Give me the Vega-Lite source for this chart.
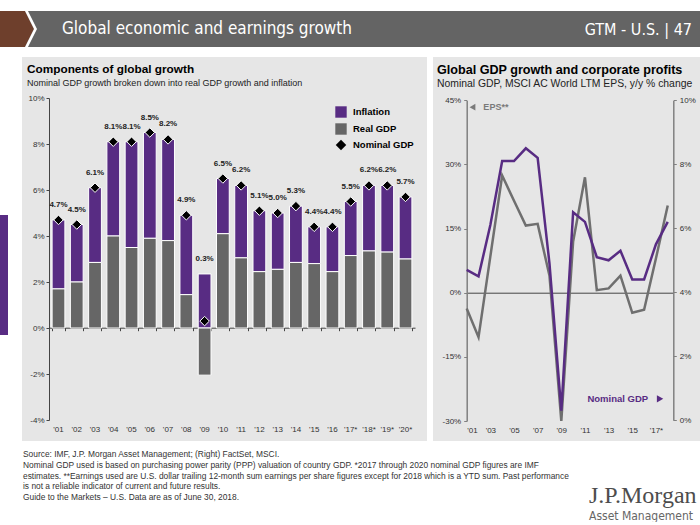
{
  "$schema": "https://vega.github.io/schema/vega-lite/v6.json",
  "background": "white",
  "padding": {"left": 0, "top": 10, "right": 0, "bottom": 0},
  "spacing": 9,
  "config": {
    "view": {"stroke": null},
    "font": "Liberation Sans",
    "axis": {"labelFont": "Liberation Sans", "labelFontSize": 8, "labelColor": "#333333", "grid": false},
    "legend": {"labelFont": "Liberation Sans"},
    "title": {"font": "Liberation Sans", "subtitleFont": "Liberation Sans"}
  },
  "datasets": {
    "gdp": [
      {"year": "'01", "real": 1.7, "inflation": 3.0, "nominal": 4.7},
      {"year": "'02", "real": 2.0, "inflation": 2.5, "nominal": 4.5},
      {"year": "'03", "real": 2.85, "inflation": 3.25, "nominal": 6.1},
      {"year": "'04", "real": 4.0, "inflation": 4.1, "nominal": 8.1},
      {"year": "'05", "real": 3.5, "inflation": 4.6, "nominal": 8.1},
      {"year": "'06", "real": 3.9, "inflation": 4.6, "nominal": 8.5},
      {"year": "'07", "real": 3.8, "inflation": 4.4, "nominal": 8.2},
      {"year": "'08", "real": 1.45, "inflation": 3.45, "nominal": 4.9},
      {"year": "'09", "real": -2.05, "inflation": 2.35, "nominal": 0.3},
      {"year": "'10", "real": 4.1, "inflation": 2.4, "nominal": 6.5},
      {"year": "'11", "real": 3.05, "inflation": 3.15, "nominal": 6.2},
      {"year": "'12", "real": 2.45, "inflation": 2.65, "nominal": 5.1},
      {"year": "'13", "real": 2.55, "inflation": 2.45, "nominal": 5.0},
      {"year": "'14", "real": 2.85, "inflation": 2.45, "nominal": 5.3},
      {"year": "'15", "real": 2.8, "inflation": 1.6, "nominal": 4.4},
      {"year": "'16", "real": 2.45, "inflation": 1.95, "nominal": 4.4},
      {"year": "'17*", "real": 3.15, "inflation": 2.35, "nominal": 5.5},
      {"year": "'18*", "real": 3.35, "inflation": 2.85, "nominal": 6.2},
      {"year": "'19*", "real": 3.3, "inflation": 2.9, "nominal": 6.2},
      {"year": "'20*", "real": 3.0, "inflation": 2.7, "nominal": 5.7}
    ],
    "lines": [
      {"year": 2001, "eps": -3.7, "gdp": 4.7},
      {"year": 2002, "eps": -10.4, "gdp": 4.5},
      {"year": 2003, "eps": 8.5, "gdp": 6.1},
      {"year": 2004, "eps": 27.4, "gdp": 8.1},
      {"year": 2005, "eps": 21.5, "gdp": 8.1},
      {"year": 2006, "eps": 15.7, "gdp": 8.5},
      {"year": 2007, "eps": 16.1, "gdp": 8.2},
      {"year": 2008, "eps": 4.0, "gdp": 4.9},
      {"year": 2009, "eps": -30.0, "gdp": 0.3},
      {"year": 2010, "eps": 12.0, "gdp": 6.5},
      {"year": 2011, "eps": 27.0, "gdp": 6.2},
      {"year": 2012, "eps": 0.6, "gdp": 5.1},
      {"year": 2013, "eps": 1.0, "gdp": 5.0},
      {"year": 2014, "eps": 4.0, "gdp": 5.3},
      {"year": 2015, "eps": -4.7, "gdp": 4.4},
      {"year": 2016, "eps": -4.0, "gdp": 4.4},
      {"year": 2017, "eps": 8.0, "gdp": 5.5},
      {"year": 2018, "eps": 20.4, "gdp": 6.2}
    ]
  },
  "vconcat": [
    {
      "spacing": 0,
      "hconcat": [
        {
          "width": 440,
          "height": 36,
          "view": {"fill": "#646464", "stroke": null},
          "title": {"text": "Global economic and earnings growth", "anchor": "start", "frame": "group", "orient": "top", "baseline": "top", "offset": -27, "dx": 62, "font": "Liberation Sans Narrow, DejaVu Sans Condensed, sans-serif", "fontSize": 17, "fontWeight": "normal", "color": "#ffffff"},
          "data": {"values": [{}]},
          "layer": [
            {"mark": {"type": "point", "shape": "M -1 -0.08182 L -0.88636 -0.08182 L -0.84545 0 L -0.88636 0.08182 L -1 0.08182 Z", "size": 193600, "filled": true, "fill": "#6e3f2c", "stroke": null, "strokeWidth": 0, "opacity": 1}},
            {"mark": {"type": "point", "shape": "M -0.88636 -0.08182 L -0.87273 -0.08182 L -0.83182 0 L -0.87273 0.08182 L -0.88636 0.08182 L -0.84545 0 Z", "size": 193600, "filled": true, "fill": "#ffffff", "stroke": null, "strokeWidth": 0, "opacity": 1}}
          ]
        },
        {
          "width": 260,
          "height": 36,
          "view": {"fill": "#646464", "stroke": null},
          "title": {"text": "GTM - U.S.  |  47", "anchor": "end", "frame": "group", "orient": "top", "baseline": "top", "offset": -27, "dx": -8, "font": "Liberation Sans Narrow, DejaVu Sans Condensed, sans-serif", "fontSize": 16, "fontWeight": "normal", "color": "#ffffff"},
          "data": {"values": [{}]},
          "mark": {"type": "point", "opacity": 0, "size": 1}
        }
      ]
    },
    {
      "spacing": 14,
      "hconcat": [
        {
          "spacing": 0,
          "vconcat": [
            {"width": 8, "height": 158, "data": {"values": [{}]}, "mark": {"type": "point", "opacity": 0, "size": 1}},
            {"width": 8, "height": 120, "view": {"fill": "#582c83", "stroke": null}, "data": {"values": [{}]}, "mark": {"type": "point", "opacity": 0, "size": 1}}
          ]
        },
        {
          "spacing": 6,
          "hconcat": [
            {
              "width": 405,
              "height": 384,
              "view": {"fill": "#e6e6e6", "stroke": null},
              "title": {"text": "Components of global growth", "subtitle": "Nominal GDP growth broken down into real GDP growth and inflation", "anchor": "start", "frame": "group", "orient": "top", "baseline": "top", "offset": -31, "dx": 5, "fontSize": 11.8, "fontWeight": "bold", "color": "#000000", "subtitleFontSize": 9, "subtitleColor": "#222222", "subtitlePadding": 3},
              "data": {"name": "gdp"},
              "resolve": {"axis": {"x": "independent"}},
              "layer": [
                {
                  "transform": [{"fold": ["inflation", "real"], "as": ["series", "value"]}],
                  "mark": {"type": "bar", "stroke": "#ffffff", "strokeWidth": 1},
                  "encoding": {
                    "x": {"field": "year", "type": "ordinal", "scale": {"type": "band", "range": [27, 393], "paddingInner": 0.3, "paddingOuter": 0.17},
                      "axis": {"title": null, "orient": "bottom", "offset": -113.3, "labels": false, "ticks": true, "tickBand": "extent", "tickSize": 3, "tickColor": "#444444", "domainColor": "#444444", "domainWidth": 1}},
                    "y": {"field": "value", "type": "quantitative", "stack": "zero", "scale": {"domain": [-4, 10], "range": [363, 41], "nice": false, "zero": false},
                      "axis": {"title": null, "orient": "left", "offset": -27, "values": [-4, -2, 0, 2, 4, 6, 8, 10], "labelExpr": "datum.value + '%'", "domainColor": "#444444", "tickColor": "#444444", "tickSize": 3, "labelPadding": 2}},
                    "color": {"field": "series", "type": "nominal", "scale": {"domain": ["inflation", "real"], "range": ["#582c83", "#666666"]},
                      "legend": {"orient": "none", "legendX": 335, "legendY": 95, "title": null, "symbolType": "square", "symbolSize": 130, "symbolStrokeWidth": 0, "labelFontSize": 9.5, "labelFontWeight": "bold", "labelOffset": 6, "rowPadding": 5,
                        "labelExpr": "datum.value == 'real' ? 'Real GDP' : 'Inflation'",
                        "encode": {"labels": {"update": {"fill": {"signal": "datum.value == 'real' ? '#7a7a7a' : '#582c83'"}}}}}},
                    "order": {"field": "series", "sort": "descending"}
                  }
                },
                {
                  "mark": {"type": "point", "filled": true, "fill": "#000000", "stroke": "#ffffff", "strokeWidth": 1, "size": 90, "opacity": 1},
                  "encoding": {
                    "x": {"field": "year", "type": "ordinal",
                      "axis": {"title": null, "orient": "bottom", "offset": -16, "domain": false, "ticks": false, "tickSize": 0, "labelPadding": 0, "labelAngle": 0, "labelFontSize": 8, "labelOverlap": false}},
                    "y": {"field": "nominal", "type": "quantitative", "axis": {"title": null}},
                    "shape": {"datum": "Nominal GDP", "type": "nominal", "scale": {"range": ["diamond"]},
                      "legend": {"orient": "none", "legendX": 335, "legendY": 128, "title": null, "symbolFillColor": "#000000", "symbolStrokeColor": "#ffffff", "symbolSize": 110, "labelFontSize": 9.5, "labelFontWeight": "bold", "labelColor": "#000000", "labelOffset": 6}}
                  }
                },
                {
                  "transform": [
                    {"calculate": "max(datum.nominal, datum.nominal - datum.real)", "as": "top"},
                    {"calculate": "format(datum.nominal, '.1f') + '%'", "as": "label"}
                  ],
                  "mark": {"type": "text", "dy": -15, "fontSize": 8, "fontWeight": "bold", "fill": "#222222", "baseline": "middle"},
                  "encoding": {
                    "x": {"field": "year", "type": "ordinal", "axis": null},
                    "y": {"field": "top", "type": "quantitative", "axis": {"title": null}},
                    "text": {"field": "label"}
                  }
                }
              ]
            },
            {
              "width": 267,
              "height": 384,
              "view": {"fill": "#e6e6e6", "stroke": null},
              "title": {"text": "Global GDP growth and corporate profits", "subtitle": "Nominal GDP, MSCI AC World LTM EPS, y/y % change", "anchor": "start", "frame": "group", "orient": "top", "baseline": "top", "offset": -32, "dx": 4, "fontSize": 12.6, "fontWeight": "bold", "color": "#000000", "subtitleFontSize": 10.4, "subtitleColor": "#222222", "subtitlePadding": 2},
              "resolve": {"scale": {"y": "independent"}, "axis": {"x": "independent", "y": "independent"}},
              "layer": [
                {
                  "layer": [
                    {
                      "data": {"name": "lines"},
                      "mark": {"type": "line", "color": "#6f6f6f", "strokeWidth": 2.5},
                      "encoding": {
                        "x": {"field": "year", "type": "quantitative", "scale": {"domain": [2001, 2018.47], "range": [33.7, 240.3], "nice": false, "zero": false},
                          "axis": {"title": null, "orient": "bottom", "offset": -148.3, "labels": false, "ticks": false, "domainColor": "#444444", "domainWidth": 1}},
                        "y": {"field": "eps", "type": "quantitative", "scale": {"domain": [-30, 45], "range": [364, 43.3], "nice": false, "zero": false},
                          "axis": {"title": null, "orient": "left", "offset": -33.7, "values": [-30, -15, 0, 15, 30, 45], "labelExpr": "datum.value + '%'", "domainColor": "#808080", "domainWidth": 1.5, "tickColor": "#808080", "tickSize": 3, "labelPadding": 3}}
                      }
                    },
                    {
                      "data": {"values": [{"label": "EPS**"}]},
                      "mark": {"type": "point", "shape": "triangle-left", "filled": true, "color": "#7a7a7a", "size": 45, "opacity": 1},
                      "encoding": {
                        "x": {"datum": 2001.49, "type": "quantitative", "axis": {"title": null, "orient": "bottom", "offset": -148.3, "labels": false, "ticks": false, "domainColor": "#444444", "domainWidth": 1}},
                        "y": {"datum": 43.4, "type": "quantitative", "axis": {"title": null, "orient": "left", "offset": -33.7, "values": [-30, -15, 0, 15, 30, 45], "labelExpr": "datum.value + '%'", "domainColor": "#808080", "domainWidth": 1.5, "tickColor": "#808080", "tickSize": 3, "labelPadding": 3}}
                      }
                    },
                    {
                      "data": {"values": [{"label": "EPS**"}]},
                      "mark": {"type": "text", "align": "left", "baseline": "middle", "fontSize": 9, "fontWeight": "bold", "fill": "#7a7a7a"},
                      "encoding": {
                        "x": {"datum": 2002.41, "type": "quantitative", "axis": {"title": null, "orient": "bottom", "offset": -148.3, "labels": false, "ticks": false, "domainColor": "#444444", "domainWidth": 1}},
                        "y": {"datum": 43.4, "type": "quantitative", "axis": {"title": null, "orient": "left", "offset": -33.7, "values": [-30, -15, 0, 15, 30, 45], "labelExpr": "datum.value + '%'", "domainColor": "#808080", "domainWidth": 1.5, "tickColor": "#808080", "tickSize": 3, "labelPadding": 3}},
                        "text": {"field": "label"}
                      }
                    }
                  ]
                },
                {
                  "layer": [
                    {
                      "data": {"name": "lines"},
                      "mark": {"type": "line", "color": "#582c83", "strokeWidth": 2.5},
                      "encoding": {
                        "x": {"field": "year", "type": "quantitative",
                          "axis": {"title": null, "orient": "bottom", "offset": -15, "domain": false, "ticks": false, "tickSize": 0, "labelPadding": 0, "labelOverlap": false, "values": [2001, 2003, 2005, 2007, 2009, 2011, 2013, 2015, 2017], "format": "d", "labelExpr": "\"'\" + slice(datum.label, 2) + (datum.value == 2017 ? '*' : '')"}},
                        "y": {"field": "gdp", "type": "quantitative", "scale": {"domain": [0, 10], "range": [363.3, 43.3], "nice": false, "zero": false},
                          "axis": {"title": null, "orient": "right", "offset": -26.7, "values": [0, 2, 4, 6, 8, 10], "labelExpr": "datum.value + '%'", "domainColor": "#808080", "domainWidth": 1.5, "tickColor": "#808080", "tickSize": 3, "labelPadding": 3}}
                      }
                    },
                    {
                      "data": {"values": [{"label": "Nominal GDP"}]},
                      "mark": {"type": "text", "align": "right", "baseline": "middle", "fontSize": 9.5, "fontWeight": "bold", "fill": "#582c83"},
                      "encoding": {
                        "x": {"datum": 2016.34, "type": "quantitative", "axis": {"title": null, "orient": "bottom", "offset": -15, "domain": false, "ticks": false, "tickSize": 0, "labelPadding": 0, "labelOverlap": false, "values": [2001, 2003, 2005, 2007, 2009, 2011, 2013, 2015, 2017], "format": "d", "labelExpr": "\"'\" + slice(datum.label, 2) + (datum.value == 2017 ? '*' : '')"}},
                        "y": {"datum": 0.67, "type": "quantitative", "axis": {"title": null, "orient": "right", "offset": -26.7, "values": [0, 2, 4, 6, 8, 10], "labelExpr": "datum.value + '%'", "domainColor": "#808080", "domainWidth": 1.5, "tickColor": "#808080", "tickSize": 3, "labelPadding": 3}},
                        "text": {"field": "label"}
                      }
                    },
                    {
                      "data": {"values": [{"label": "Nominal GDP"}]},
                      "mark": {"type": "point", "shape": "triangle-right", "filled": true, "color": "#582c83", "size": 55, "opacity": 1},
                      "encoding": {
                        "x": {"datum": 2017.35, "type": "quantitative", "axis": {"title": null, "orient": "bottom", "offset": -15, "domain": false, "ticks": false, "tickSize": 0, "labelPadding": 0, "labelOverlap": false, "values": [2001, 2003, 2005, 2007, 2009, 2011, 2013, 2015, 2017], "format": "d", "labelExpr": "\"'\" + slice(datum.label, 2) + (datum.value == 2017 ? '*' : '')"}},
                        "y": {"datum": 0.67, "type": "quantitative", "axis": {"title": null, "orient": "right", "offset": -26.7, "values": [0, 2, 4, 6, 8, 10], "labelExpr": "datum.value + '%'", "domainColor": "#808080", "domainWidth": 1.5, "tickColor": "#808080", "tickSize": 3, "labelPadding": 3}}
                      }
                    }
                  ]
                }
              ]
            }
          ]
        }
      ]
    },
    {
      "spacing": 0,
      "hconcat": [
        {
          "width": 585,
          "height": 1,
          "data": {"values": [{}]},
          "mark": {"type": "point", "opacity": 0, "size": 1},
          "title": {"text": ["Source: IMF, J.P. Morgan Asset Management; (Right) FactSet, MSCI.", "Nominal GDP used is based on purchasing power parity (PPP) valuation of country GDP. *2017 through 2020 nominal GDP figures are IMF", "estimates. **Earnings used are U.S. dollar trailing 12-month sum earnings per share figures except for 2018 which is a YTD sum. Past performance", "is not a reliable indicator of current and future results.", "Guide to the Markets – U.S. Data are as of June 30, 2018."], "orient": "bottom", "anchor": "start", "frame": "group", "baseline": "top", "offset": -6, "dx": 23, "fontSize": 8.4, "lineHeight": 10.8, "fontWeight": "normal", "color": "#333333"}
        },
        {
          "width": 115,
          "height": 1,
          "data": {"values": [{}]},
          "mark": {"type": "point", "opacity": 0, "size": 1},
          "title": {"text": "J.P.Morgan", "subtitle": "Asset Management", "orient": "bottom", "anchor": "start", "frame": "group", "baseline": "top", "offset": 28, "dx": 4, "font": "Liberation Serif", "fontSize": 24, "fontWeight": "normal", "color": "#4d4d4d", "subtitleFont": "Liberation Sans Narrow, DejaVu Sans Condensed, sans-serif", "subtitleFontSize": 12, "subtitleColor": "#666666", "subtitlePadding": 3}
        }
      ]
    }
  ]
}
